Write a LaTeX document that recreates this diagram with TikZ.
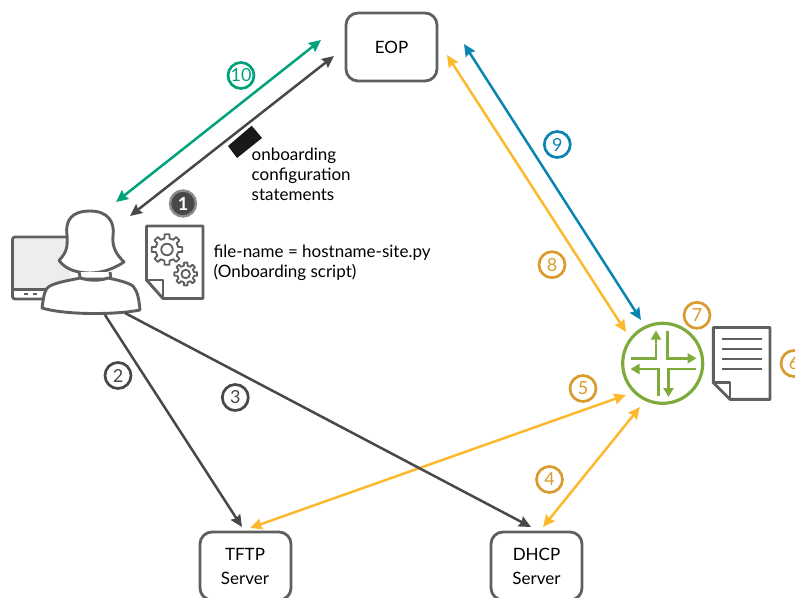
\documentclass[tikz,border=0pt]{standalone}
\usepackage{fontspec}
\setmainfont{Lato}
\usetikzlibrary{arrows.meta}
\definecolor{dk}{HTML}{484848}
\definecolor{ic}{HTML}{5F5F5F}
\definecolor{grn}{HTML}{00A27C}
\definecolor{blu}{HTML}{0A85B0}
\definecolor{yel}{HTML}{FDB92E}
\definecolor{org}{HTML}{D99B2D}
\definecolor{rtr}{HTML}{7FAB3C}
\tikzset{
 x=1pt,y=-1pt,
 conn/.style={line width=2.5pt,-{Stealth[length=12pt,width=11pt,inset=1.5pt]}},
 both/.style={line width=2.5pt,{Stealth[length=12pt,width=11pt,inset=1.5pt]}-{Stealth[length=12pt,width=11pt,inset=1.5pt]}},
 boxnode/.style={draw=ic,line width=2.8pt,rounded corners=12pt,minimum width=91pt,minimum height=68pt,inner sep=0pt,align=center,font=\fontsize{17}{24}\selectfont,text=black},
 num/.style={circle,draw=#1,line width=2.7pt,minimum size=26pt,inner sep=0pt,text=#1,font=\fontsize{18}{18}\selectfont},
 lbl/.style={anchor=west,inner sep=0pt,align=left,text=black,font=\fontsize{17}{20.2}\selectfont},
 icon/.style={draw=ic,line width=2.9pt,line join=round},
 rarrow/.style={draw=rtr,line width=2.8pt,line join=miter,-{Stealth[length=9pt,width=10pt,inset=0pt]}},
}
\newcommand{\gearicon}[4]{% x, y, outer, inner
 \draw[draw=ic,line width=1.8pt,line join=round]
  ({#1+#4*cos(-32.5)},{#2+#4*sin(-32.5)})
  \foreach \k in {0,...,7}{
   -- ({#1+#4*cos(\k*45-12.5)},{#2+#4*sin(\k*45-12.5)})
   -- ({#1+#3*cos(\k*45-9)},{#2+#3*sin(\k*45-9)})
   -- ({#1+#3*cos(\k*45+9)},{#2+#3*sin(\k*45+9)})
   -- ({#1+#4*cos(\k*45+12.5)},{#2+#4*sin(\k*45+12.5)})
   -- ({#1+#4*cos(\k*45+32.5)},{#2+#4*sin(\k*45+32.5)})
  } -- cycle;
 \draw[draw=ic,line width=1.8pt] (#1,#2) circle[radius=#4*0.5];
}
\begin{document}
\begin{tikzpicture}
\useasboundingbox (0,0) rectangle (795,597);
\clip (0,0) rectangle (795,597);
% boxes
\node[boxnode] (eop) at (391.5,47) {EOP};
\node[boxnode] (tftp) at (245.5,566) {};
\node[boxnode] (dhcp) at (536.5,566) {};
\node[inner sep=0pt,align=center,font=\fontsize{17}{24.5}\selectfont] (tftpt) at (245,566.3) {TFTP\\Server};
\node[inner sep=0pt,align=center,font=\fontsize{17}{24.5}\selectfont] (dhcpt) at (536.5,566.3) {DHCP\\Server};
% monitor
\draw[icon,fill=white,rounded corners=2.5pt] (70,237) -- (12.5,237) -- (12.5,299) -- (70,299);
\fill[fill=black!7] (14,238.5) rectangle (70,288.5);
\draw[icon] (13,289.5) -- (48,289.5);
\draw[draw=ic,line width=1.5pt] (24,294) -- (28,294) (33,294) -- (37,294);
% person
\draw[icon,fill=white] (59,260.5) .. controls (66,253) and (68,248) .. (67,235) .. controls (65,220) and (72,211) .. (90,211) .. controls (108,211) and (115,222) .. (113,236) .. controls (112,247) and (116,254) .. (124,262) .. controls (112,270) and (100,273) .. (90,273) .. controls (78,273) and (66,270) .. (59,260.5) -- cycle;
\draw[icon,fill=white] (79,272) -- (80.5,279) -- (111,279) -- (110,272);
\draw[icon,fill=white] (42,308) .. controls (44,295) and (44,288) .. (52,285) .. controls (62,281) and (72,280) .. (80,278) .. controls (90,281) and (100,281) .. (108,278) .. controls (117,280) and (127,282) .. (133,286) .. controls (138,292) and (139,300) .. (140,310) .. controls (115,315) and (65,315) .. (42,308) -- cycle;
\coordinate (personA) at (105,315);
\coordinate (personB) at (125,313);
\coordinate (personC) at (130,216);
\coordinate (personD) at (116,202);
% script icon
\draw[icon] (146.5,226) -- (203,226) -- (203,298.5) -- (163,298.5) -- (146.5,280) -- cycle;
\draw[icon] (146.5,280) -- (163,280) -- (163,298.5);
\gearicon{167}{249.5}{15.5}{11.5}
\gearicon{185.7}{274}{11.5}{8.5}
% router
\node[circle,draw=rtr,line width=3.2pt,minimum size=80pt,inner sep=0pt] (router) at (662.7,363.3) {};
\draw[rarrow] (630.7,358.3) -- (656,358.3) -- (656,330.5);
\draw[rarrow] (667.7,330.7) -- (667.7,358.3) -- (696.5,358.3);
\draw[rarrow] (658.5,396) -- (658.5,369) -- (630.5,369);
\draw[rarrow] (696,369) -- (668.5,369) -- (668.5,397);
% config doc
\draw[icon] (713.3,327.5) -- (770,327.5) -- (770,399.3) -- (730,399.3) -- (713.3,382.7) -- cycle;
\draw[icon] (713.3,382.7) -- (730,382.7) -- (730,399.3);
\foreach \yy in {338.7,348.7,358.7,369}{\draw[draw=ic,line width=2.4pt] (721.7,\yy) -- (761.7,\yy);}
% connector end points
\coordinate (eopA) at (321,40);
\coordinate (eopB) at (334,56);
\coordinate (eopC) at (464,44);
\coordinate (eopD) at (447,55);
\coordinate (rA) at (641,320);
\coordinate (rB) at (626,332);
\coordinate (rC) at (626,395);
\coordinate (rD) at (640,407);
\coordinate (tA) at (250,528);
\coordinate (tB) at (242,527);
\coordinate (dA) at (543,527);
\coordinate (dB) at (531,527);
% connectors
\draw[both,color=grn] (personD) -- (eopA);
\draw[both,color=dk] (personC) -- (eopB);
\draw[both,color=blu] (eopC) -- (rA);
\draw[both,color=yel] (eopD) -- (rB);
\draw[both,color=yel] (tA) -- (rC);
\draw[both,color=yel] (dA) -- (rD);
\draw[conn,color=dk] (personA) -- (tB);
\draw[conn,color=dk] (personB) -- (dB);
% black tag
\fill[black!90] (251.7,125.7) -- (262,138) -- (237,158) -- (228,146) -- cycle;
% texts
\node[lbl] (onb) at (251.5,174.3) {onboarding\\configuration\\statements};
\node[lbl] (fn) at (213.5,263) {file-name = hostname-site.py\\(Onboarding script)};
% numbers
\node[num=grn] (n10) at (241,75.5) {10};
\node[num=blu] (n9) at (557.3,144.5) {9};
\node[num=org] (n8) at (552,264.7) {8};
\node[num=org] (n7) at (697,315.3) {7};
\node[num=org] (n6) at (794,363.5) {6};
\node[num=org] (n5) at (583,388.5) {5};
\node[num=org] (n4) at (549.5,479.5) {4};
\node[num=dk] (n3) at (235.3,397.5) {3};
\node[num=dk] (n2) at (118,375.5) {2};
\node[circle,fill=dk,draw=black!45,line width=2.4pt,minimum size=26pt,inner sep=0pt,text=white,font=\fontsize{18}{18}\selectfont\bfseries] (n1) at (183,203.5) {1};
\end{tikzpicture}
\end{document}
